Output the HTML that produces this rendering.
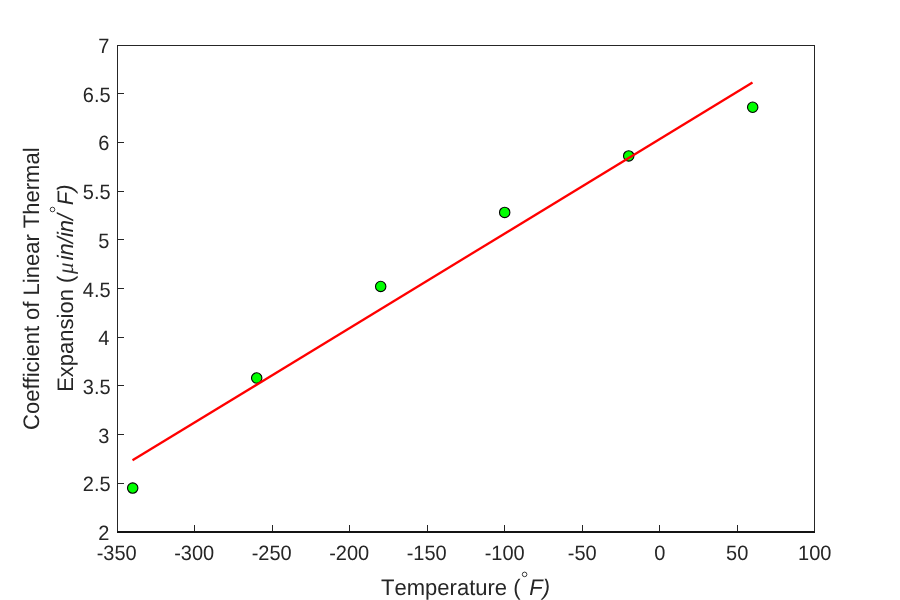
<!DOCTYPE html>
<html><head><meta charset="utf-8"><title>Coefficient of Linear Thermal Expansion</title>
<style>
html,body{margin:0;padding:0;background:#fff;}
body{width:900px;height:600px;overflow:hidden;}
svg{display:block;}
#txt{opacity:0.999;}
text{font-family:"Liberation Sans",sans-serif;fill:#262626;font-kerning:none;text-rendering:geometricPrecision;}
.tk{font-size:20px;}
.lb{font-size:22px;}
.it{font-style:italic;}
</style></head><body>
<svg width="900" height="600" viewBox="0 0 900 600">
<rect x="0" y="0" width="900" height="600" fill="#ffffff"/>

<g fill="#262626" shape-rendering="crispEdges">
<rect x="117" y="45" width="698" height="1"/>
<rect x="814" y="45" width="1" height="488"/>
<rect x="117" y="45" width="1" height="488"/>
<rect x="117" y="531" width="698" height="2" fill="#141414"/>
<rect x="194" y="525" width="1" height="6"/>
<rect x="272" y="525" width="1" height="6"/>
<rect x="349" y="525" width="1" height="6"/>
<rect x="427" y="525" width="1" height="6"/>
<rect x="504" y="525" width="1" height="6"/>
<rect x="582" y="525" width="1" height="6"/>
<rect x="659" y="525" width="1" height="6"/>
<rect x="737" y="525" width="1" height="6"/>
<rect x="118" y="483" width="6" height="1"/>
<rect x="118" y="434" width="6" height="1"/>
<rect x="118" y="385" width="6" height="1"/>
<rect x="118" y="337" width="6" height="1"/>
<rect x="118" y="288" width="6" height="1"/>
<rect x="118" y="239" width="6" height="1"/>
<rect x="118" y="191" width="6" height="1"/>
<rect x="118" y="142" width="6" height="1"/>
<rect x="118" y="93" width="6" height="1"/>
</g>
<circle cx="132.70" cy="488.07" r="5.2" fill="#00ff00" stroke="#000" stroke-width="1.1"/>
<circle cx="256.70" cy="378.01" r="5.2" fill="#00ff00" stroke="#000" stroke-width="1.1"/>
<circle cx="380.70" cy="286.45" r="5.2" fill="#00ff00" stroke="#000" stroke-width="1.1"/>
<circle cx="504.70" cy="212.43" r="5.2" fill="#00ff00" stroke="#000" stroke-width="1.1"/>
<circle cx="628.70" cy="155.94" r="5.2" fill="#00ff00" stroke="#000" stroke-width="1.1"/>
<circle cx="752.70" cy="107.24" r="5.2" fill="#00ff00" stroke="#000" stroke-width="1.1"/>
<line x1="132.50" y1="460.34" x2="752.50" y2="82.57" stroke="#ff0000" stroke-width="2.3"/>
<g id="txt">
<text class="tk" transform="translate(116.70,560.00) scale(1,1.04)" text-anchor="middle">-350</text>
<text class="tk" transform="translate(194.20,560.00) scale(1,1.04)" text-anchor="middle">-300</text>
<text class="tk" transform="translate(271.70,560.00) scale(1,1.04)" text-anchor="middle">-250</text>
<text class="tk" transform="translate(349.20,560.00) scale(1,1.04)" text-anchor="middle">-200</text>
<text class="tk" transform="translate(426.70,560.00) scale(1,1.04)" text-anchor="middle">-150</text>
<text class="tk" transform="translate(504.70,560.00) scale(1,1.04)" text-anchor="middle">-100</text>
<text class="tk" transform="translate(582.20,560.00) scale(1,1.04)" text-anchor="middle">-50</text>
<text class="tk" transform="translate(659.70,560.00) scale(1,1.04)" text-anchor="middle">0</text>
<text class="tk" transform="translate(737.20,560.00) scale(1,1.04)" text-anchor="middle">50</text>
<text class="tk" transform="translate(814.70,560.00) scale(1,1.04)" text-anchor="middle">100</text>
<text class="tk" transform="translate(109.40,540.00) scale(1,1.04)" text-anchor="end">2</text>
<text class="tk" transform="translate(110.60,491.30) scale(1,1.04)" text-anchor="end">2.5</text>
<text class="tk" transform="translate(109.40,442.60) scale(1,1.04)" text-anchor="end">3</text>
<text class="tk" transform="translate(110.60,393.90) scale(1,1.04)" text-anchor="end">3.5</text>
<text class="tk" transform="translate(109.40,345.20) scale(1,1.04)" text-anchor="end">4</text>
<text class="tk" transform="translate(110.60,296.50) scale(1,1.04)" text-anchor="end">4.5</text>
<text class="tk" transform="translate(109.40,247.80) scale(1,1.04)" text-anchor="end">5</text>
<text class="tk" transform="translate(110.60,199.10) scale(1,1.04)" text-anchor="end">5.5</text>
<text class="tk" transform="translate(109.40,150.40) scale(1,1.04)" text-anchor="end">6</text>
<text class="tk" transform="translate(110.60,101.70) scale(1,1.04)" text-anchor="end">6.5</text>
<text class="tk" transform="translate(109.40,53.00) scale(1,1.04)" text-anchor="end">7</text>
<text class="lb" transform="translate(381.11,595.00) scale(1,1.02)" text-anchor="start">Temperature (</text>
<text class="lb it" transform="translate(529.37,595.00) scale(1,1.02)" text-anchor="start">F)</text>
<circle cx="524.6" cy="574.4" r="2.3" fill="none" stroke="#262626" stroke-width="0.9"/>
<text class="lb" transform="translate(39.00,288.70) rotate(-90) scale(1,1.02)" text-anchor="middle">Coefficient of Linear Thermal</text>
<g transform="translate(72.75,390) rotate(-90)">
<text class="lb" transform="translate(-1.80,0) scale(1,1.02)" >Expansion (</text>
<text transform="translate(115.9,0.4)" style="fill:#303030;font-family:'Liberation Serif',serif;font-style:italic;font-size:23px">&#956;</text>
<text class="lb it" transform="translate(129.65,0) scale(1,1.02)" >in/in/</text>
<circle cx="180.5" cy="-20.25" r="2.3" fill="none" stroke="#262626" stroke-width="0.9"/>
<text class="lb it" transform="translate(184.82,0) scale(1,1.02)" >F)</text>
</g>
</g>
</svg></body></html>
